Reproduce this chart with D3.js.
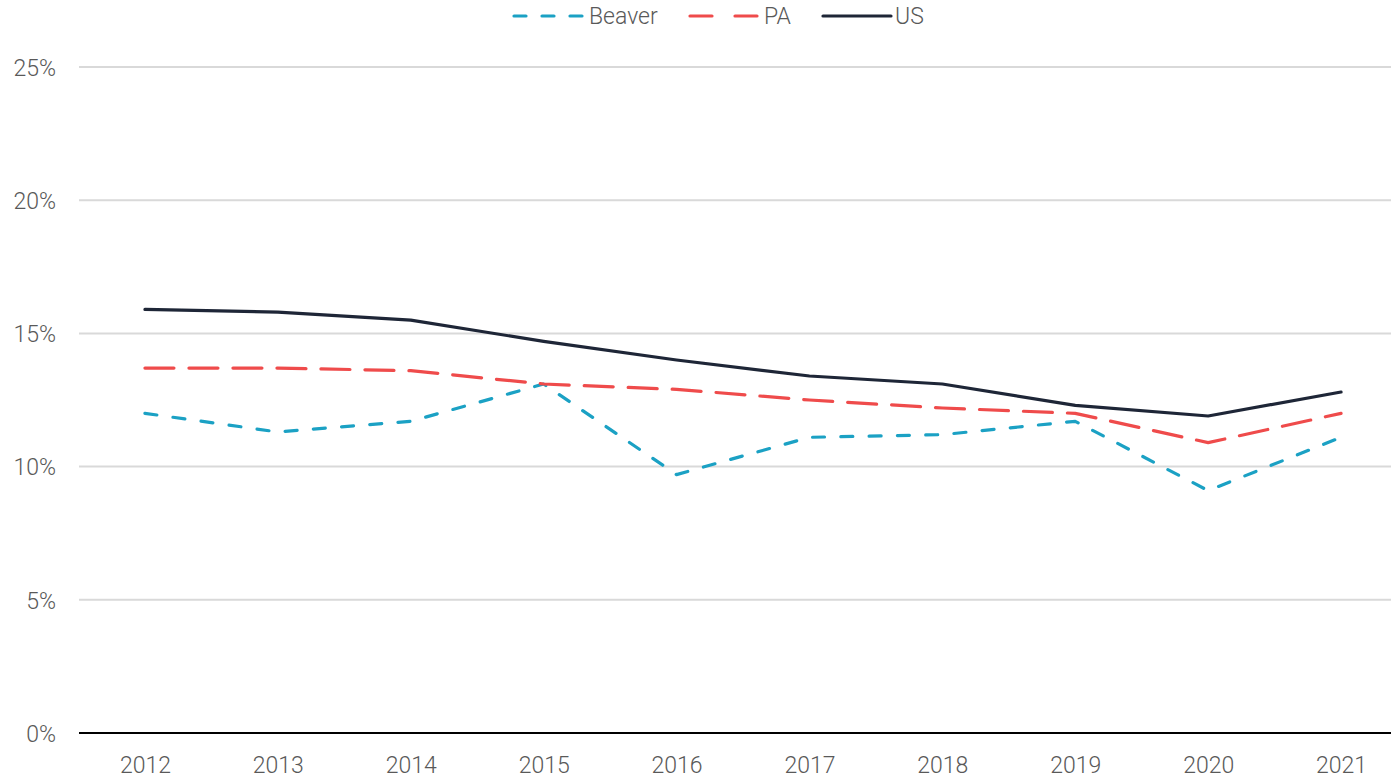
<!DOCTYPE html>
<html><head><meta charset="utf-8">
<script src="https://cdn.jsdelivr.net/npm/d3@7"></script>
<style>
body{margin:0;background:#fff;}
text{font-family:Roboto,"Liberation Sans",sans-serif;fill:#595959;font-weight:300;}
</style></head>
<body><svg id="c" width="1391" height="778"></svg>
<script>
const years = ["2012","2013","2014","2015","2016","2017","2018","2019","2020","2021"];
const beaver = [12.0,11.3,11.7,13.1,9.7,11.1,11.2,11.7,9.1,11.1];
const pa = [13.7,13.7,13.6,13.1,12.9,12.5,12.2,12.0,10.9,12.0];
const us = [15.9,15.8,15.5,14.7,14.0,13.4,13.1,12.3,11.9,12.8];
const yTicks = [0,5,10,15,20,25];

const series = [
  {name:"Beaver", values:beaver, color:"#1ba1c4", dash:"12 16.3", legDash:"12 16", lx1:514, lx2:582, tx:589},
  {name:"PA", values:pa, color:"#ef4b4b", dash:"29 15", legDash:"22 23", lx1:690, lx2:757, tx:764},
  {name:"US", values:us, color:"#1e2637", dash:null, legDash:null, lx1:823, lx2:891, tx:895}
];

(function(){
const svg = d3.select("#c");
const mLeft = 79, mRight = 1391, mTop = 67, mBottom = 733;
const x = d3.scalePoint().domain(years).range([78.5, 1407.5]).padding(0.5);
const y = d3.scaleLinear().domain([0,25]).range([mBottom, mTop]);

svg.append("g").selectAll("line").data(yTicks.filter(d=>d>0)).join("line")
  .attr("x1", mLeft).attr("x2", mRight)
  .attr("y1", d=>y(d)).attr("y2", d=>y(d))
  .attr("stroke","#d9d9d9").attr("stroke-width",2);

const yAxis = d3.axisLeft(y).tickValues(yTicks).tickFormat(d=>d+"%").tickSize(0).tickPadding(0);
const gy = svg.append("g").attr("transform",`translate(56,0)`).call(yAxis);
gy.select(".domain").remove();
gy.selectAll("text").style("font-size","23px").style("font-family","Roboto").style("font-weight","300").attr("fill","#595959").attr("dy","0.36em");

const xAxis = d3.axisBottom(x).tickSize(0).tickPadding(0);
const gx = svg.append("g").attr("transform",`translate(0,${mBottom})`).call(xAxis);
gx.select(".domain").remove();
gx.selectAll("text").style("font-size","23px").style("font-family","Roboto").style("font-weight","300").attr("fill","#595959").attr("dy","0").attr("y",40);
svg.append("line").attr("x1",mLeft).attr("x2",mRight).attr("y1",mBottom).attr("y2",mBottom)
  .attr("stroke","#000").attr("stroke-width",2.2);

const line = d3.line().x((d,i)=>x(years[i])).y(d=>y(d));
svg.append("g").selectAll("path").data(series).join("path")
  .attr("d", d=>line(d.values))
  .attr("fill","none").attr("stroke",d=>d.color).attr("stroke-width",3.2)
  .attr("stroke-linecap","round").attr("stroke-linejoin","round")
  .attr("stroke-dasharray", d=>d.dash);

const lg = svg.append("g").selectAll("g").data(series).join("g")
  .attr("transform","translate(0,16)");
lg.append("line").attr("x1",d=>d.lx1).attr("x2",d=>d.lx2).attr("y1",0).attr("y2",0)
  .attr("stroke",d=>d.color).attr("stroke-width",3.2).attr("stroke-linecap","round")
  .attr("stroke-dasharray", d=>d.legDash);
lg.append("text").attr("x",d=>d.tx).attr("y",0).attr("dy","0.36em")
  .style("font-size","23px").text(d=>d.name);
})();
</script></body></html>
